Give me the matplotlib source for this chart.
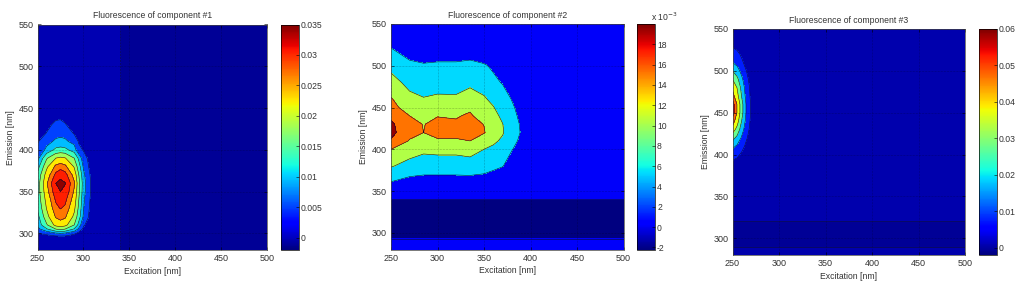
import numpy as np
from matplotlib import pyplot as plt
from matplotlib.cm import ScalarMappable
from matplotlib.colors import Normalize

plt.rcParams['font.family'] = ['Liberation Sans', 'DejaVu Sans']
plt.rcParams['font.size'] = 6.5
plt.rcParams['text.color'] = '#333333'
plt.rcParams['axes.labelcolor'] = '#333333'
plt.rcParams['xtick.labelcolor'] = '#333333'
plt.rcParams['ytick.labelcolor'] = '#333333'

# component 1, one list per excitation wavelength
ex1 = [250, 260, 270, 275, 280, 290, 295, 300, 305, 310, 335, 345, 500]
em1 = [280, 293, 297, 300, 305, 310, 320, 330, 340, 350, 360, 370, 380, 390, 400, 410, 420, 430, 440, 550]
z1_250 = [0, 0, .002, .005, .008, .0105, .012, .014, .015, .0155, .0155, .0145, .0115, .008, .006, .0045, .002, 0, 0, 0]
z1_260 = [0, 0, .004, .0065, .013, .0175, .021, .0228, .024, .0255, .0265, .0245, .0215, .0175, .0105, .0082, .0052, .0035, .001, 0]
z1_270 = [0, 0, .0052, .009, .018, .024, .0275, .0295, .031, .033, .0345, .0315, .028, .0225, .0145, .0102, .0082, .0063, .0038, 0]
z1_275 = [0, 0, .0055, .0095, .019, .025, .0285, .0307, .0325, .0345, .0357, .033, .029, .0235, .015, .0105, .0085, .0065, .004, 0]
z1_280 = [0, 0, .0053, .009, .018, .024, .0277, .0298, .0315, .0335, .0347, .032, .028, .0228, .0146, .0102, .0082, .0055, .003, 0]
z1_290 = [0, 0, .003, .0065, .013, .018, .0215, .0235, .025, .0265, .0275, .0255, .022, .018, .0115, .0082, .0045, .002, 0, 0]
z1_295 = [0, 0, .001, .0035, .0085, .012, .0155, .017, .018, .019, .0195, .018, .0155, .0125, .0062, .0045, .002, 0, 0, 0]
z1_300 = [0, 0, 0, .0005, .004, .006, .009, .0098, .0105, .0112, .0115, .0107, .009, .0072, .0047, .003, .001, 0, 0, 0]
z1_305 = [0, 0, 0, 0, .0005, .003, .0055, .006, .0065, .007, .0072, .0066, .0055, .0045, .0025, .001, 0, 0, 0, 0]
z1_310 = [0, 0, 0, 0, 0, 0, .001, .0025, .003, .0035, .0035, .003, .002, .001, 0, 0, 0, 0, 0, 0]
z1_335 = [0] * 20
z1_345 = [-.0006] * 20
z1_500 = [-.0006] * 20
levels1 = [-.0012, -.0003, .005, .0095, .0135, .018, .0225, .027, .0305, .0345, .0365]
clim1 = (-.002, .035)
ticks1 = [0, .005, .01, .015, .02, .025, .03, .035]
ticklabels1 = ['0', '0.005', '0.01', '0.015', '0.02', '0.025', '0.03', '0.035']

# component 2, values in units of 1e-3
ex2 = [250, 270, 285, 300, 320, 335, 350, 360, 370, 380, 390, 410, 500]
em2 = [280, 293, 295, 337, 340, 360, 380, 400, 410, 420, 430, 440, 450, 460, 480, 500, 520, 550]
z2_250 = [.3, .3, -2, -2, .3, 5.0, 10.7, 15.3, 19, 20.7, 20.3, 18.5, 17, 15.7, 12, 9, 5.5, .3]
z2_270 = [.3, .3, -2, -2, .3, 3.5, 8.5, 12.7, 15, 16.5, 16.2, 15.3, 13, 11.5, 9, 6.3, 3.3, .3]
z2_285 = [.3, .3, -2, -2, .3, 3, 8, 11.2, 13, 15.3, 15.2, 13.5, 12, 10.6, 8, 5.8, 2.5, .3]
z2_300 = [.3, .3, -2, -2, .3, 3, 8, 11.5, 15, 16, 16, 15.2, 12.5, 11, 8.7, 6, 3, .3]
z2_320 = [.3, .3, -2, -2, .3, 3, 8, 11.5, 15, 16, 15.8, 15, 12.2, 11, 8.5, 6, 3, .3]
z2_335 = [.3, .3, -2, -2, .3, 3, 8.3, 12, 15.3, 16.5, 16.5, 15.8, 14.7, 12, 9.5, 6.5, 3, .3]
z2_350 = [.3, .3, -2, -2, .3, 2.8, 7.5, 10.3, 12.5, 15.6, 15.2, 13.5, 12, 10.8, 8.5, 5.8, 2, .3]
z2_360 = [.3, .3, -2, -2, .3, 2, 6.5, 9.3, 11.2, 13, 12.5, 11.5, 10.5, 9.3, 6.3, 4.6, 1.5, .3]
z2_370 = [.3, .3, -2, -2, .3, 1.5, 5.5, 8, 9.5, 10.7, 10.4, 9.5, 8.5, 7.5, 5, 2.5, .8, .3]
z2_380 = [.3, .3, -2, -2, .3, 1, 3.2, 5.5, 6.8, 7.5, 7.3, 6.7, 6, 5.1, 3.5, 1.8, .5, .3]
z2_390 = [.3, .3, -2, -2, .3, .5, 2, 3.5, 4.3, 5, 4.8, 4.2, 3.6, 3, 1.8, .8, .3, .3]
z2_410 = [.3, .3, -2, -2, .3, .3, .3, .3, .3, .3, .3, .3, .3, .3, .3, .3, .3, .3]
z2_500 = [.3, .3, -2, -2, .3, .3, .3, .3, .3, .3, .3, .3, .3, .3, .3, .3, .3, .3]
levels2 = [-2.2, .2, 5.3, 10.3, 15.3, 19.5, 22]
clim2 = (-2.2, 20)
ticks2 = [-2, 0, 2, 4, 6, 8, 10, 12, 14, 16, 18]
ticklabels2 = ['-2', '0', '2', '4', '6', '8', '10', '12', '14', '16', '18']

# component 3
ex3 = [250, 255, 260, 265, 270, 280, 500]
em3 = [280, 288, 292, 318, 322, 370, 380, 390, 400, 410, 420, 430, 440, 450, 460, 470, 480, 490, 500, 510, 520, 530, 540, 550]
z3_250 = [.001, .001, -.0003, -.0003, .001, .001, .002, .0055, .012, .02, .031, .043, .052, .059, .059, .051, .046, .0375, .0275, .0175, .012, .0065, .003, .001]
z3_255 = [.001, .001, -.0003, -.0003, .001, .001, .0015, .0045, .0095, .016, .025, .034, .042, .047, .047, .041, .037, .03, .022, .014, .0095, .005, .0025, .001]
z3_260 = [.001, .001, -.0003, -.0003, .001, .001, .001, .003, .006, .0105, .016, .022, .027, .031, .031, .0265, .024, .0195, .014, .009, .006, .0035, .0015, .001]
z3_265 = [.001, .001, -.0003, -.0003, .001, .001, .001, .0015, .003, .0055, .0085, .0115, .014, .016, .016, .014, .0125, .01, .0075, .0045, .003, .0015, .001, .001]
z3_270 = [.001, .001, -.0003, -.0003, .001, .001, .001, .001, .001, .002, .0035, .0045, .0055, .0065, .0065, .0055, .005, .004, .003, .002, .001, .001, .001, .001]
z3_280 = [.001, .001, -.0003, -.0003, .001, .001, .001, .001, .001, .001, .001, .001, .001, .001, .001, .001, .001, .001, .001, .001, .001, .001, .001, .001]
z3_500 = [.001, .001, -.0003, -.0003, .001, .001, .001, .001, .001, .001, .001, .001, .001, .001, .001, .001, .001, .001, .001, .001, .001, .001, .001, .001]
levels3 = [-.0006, .0005, .0075, .0175, .0275, .0375, .0475, .055, .061]
clim3 = (-.002, .06)
ticks3 = [0, .01, .02, .03, .04, .05, .06]
ticklabels3 = ['0', '0.01', '0.02', '0.03', '0.04', '0.05', '0.06']

titles = ['Fluorescence of component #1', 'Fluorescence of component #2', 'Fluorescence of component #3']
WIDTH, HEIGHT = 1024, 287


def make_axes(fig, left, right, top, bottom):
    return fig.add_axes([left / WIDTH, 1 - bottom / HEIGHT, (right - left) / WIDTH, (bottom - top) / HEIGHT])


def draw_panel(fig, box, cbox, ex, em, columns, levels, clim, ticks, ticklabels, title):
    ax = make_axes(fig, *box)
    z = np.array(columns).T
    norm = Normalize(*clim)
    # matlab colours a band by its lower level
    colors = [plt.cm.jet(norm(v)) for v in levels[:-1]]
    ax.contourf(ex, em, z, levels=levels, colors=colors)
    ax.contour(ex, em, z, levels=levels[1:-1], colors='#101030', linewidths=0.4)
    ax.set_xlim(250, 500)
    ax.set_ylim(280, 550)
    ax.set_xticks([250, 300, 350, 400, 450, 500])
    ax.set_yticks([300, 350, 400, 450, 500, 550])
    ax.grid(True, color='black', linestyle=':', linewidth=0.4, alpha=0.5)
    ax.tick_params(direction='in', length=2, width=0.4, pad=3, top=True, right=True)
    for s in ax.spines.values():
        s.set_linewidth(0.5)
        s.set_color('#444444')
    ax.set_xlabel('Excitation [nm]', fontsize=6.2, labelpad=2.5)
    ax.set_ylabel('Emission [nm]', fontsize=6.2, labelpad=2.5)
    ax.set_title(title, fontsize=6.2, pad=4.5)

    cax = make_axes(fig, *cbox)
    cb = fig.colorbar(ScalarMappable(norm=norm, cmap='jet'), cax=cax)
    cb.set_ticks(ticks)
    cb.set_ticklabels(ticklabels)
    cax.tick_params(direction='in', length=2, width=0.4, pad=1.5, labelsize=6.2)
    cb.outline.set_linewidth(0.5)
    return ax, cax


fig = plt.figure(figsize=(WIDTH / 100, HEIGHT / 100), dpi=100)

draw_panel(fig, (37.5, 267, 24.5, 250), (281, 299, 24.5, 250), ex1, em1,
           [z1_250, z1_260, z1_270, z1_275, z1_280, z1_290, z1_295, z1_300, z1_305, z1_310, z1_335, z1_345, z1_500],
           levels1, clim1, ticks1, ticklabels1, titles[0])

draw_panel(fig, (391, 623.5, 24, 249.5), (637, 655, 24, 249.5), ex2, em2,
           [z2_250, z2_270, z2_285, z2_300, z2_320, z2_335, z2_350, z2_360, z2_370, z2_380, z2_390, z2_410, z2_500],
           levels2, clim2, ticks2, ticklabels2, titles[1])
fig.text(664 / WIDTH, 1 - 21 / HEIGHT, 'x 10$^{-3}$', ha='center', va='baseline', fontsize=6.2,
         math_fontfamily='dejavusans')

draw_panel(fig, (732.5, 965, 29, 255), (979, 997, 29, 255), ex3, em3,
           [z3_250, z3_255, z3_260, z3_265, z3_270, z3_280, z3_500],
           levels3, clim3, ticks3, ticklabels3, titles[2])

fig.savefig('out.png', dpi=100)
